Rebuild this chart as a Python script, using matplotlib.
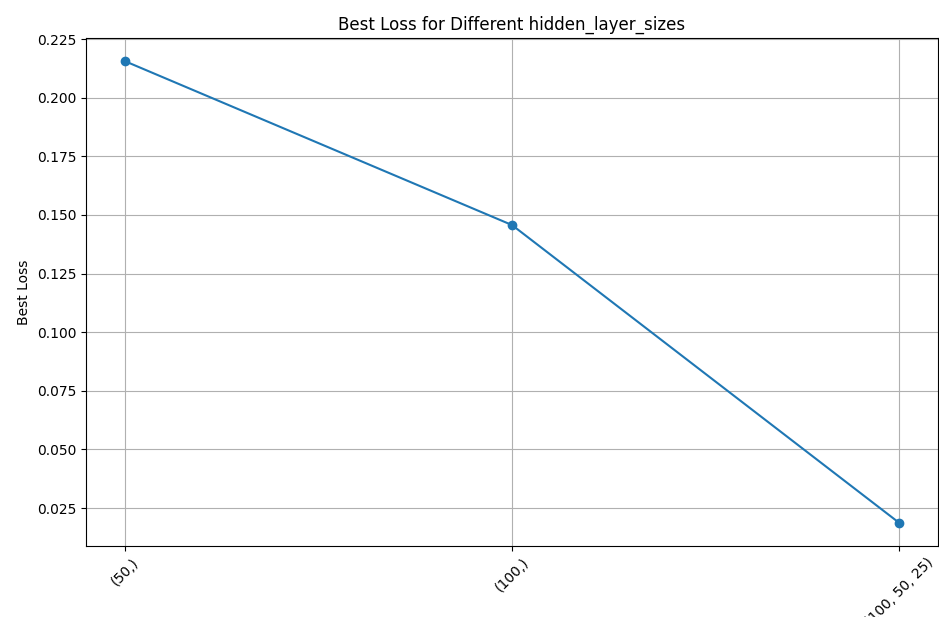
import matplotlib
matplotlib.use("Agg")
import matplotlib.pyplot as plt

categories = ["(50,)", "(100,)", "(100, 50, 25)"]
best_loss = [0.2156, 0.1457, 0.0187]

W, H = 939, 617
fig = plt.figure(figsize=(W / 100, H / 100), dpi=100)
ax = fig.add_axes([86 / W, 1 - 546 / H, (938 - 86) / W, (546 - 38) / H])
ax.plot(categories, best_loss, marker="o")
ax.set_title("Best Loss for Different hidden_layer_sizes")
ax.set_ylabel("Best Loss")
ax.grid(True)
plt.setp(ax.get_xticklabels(), rotation=45)
fig.savefig("out.png", dpi=100)
